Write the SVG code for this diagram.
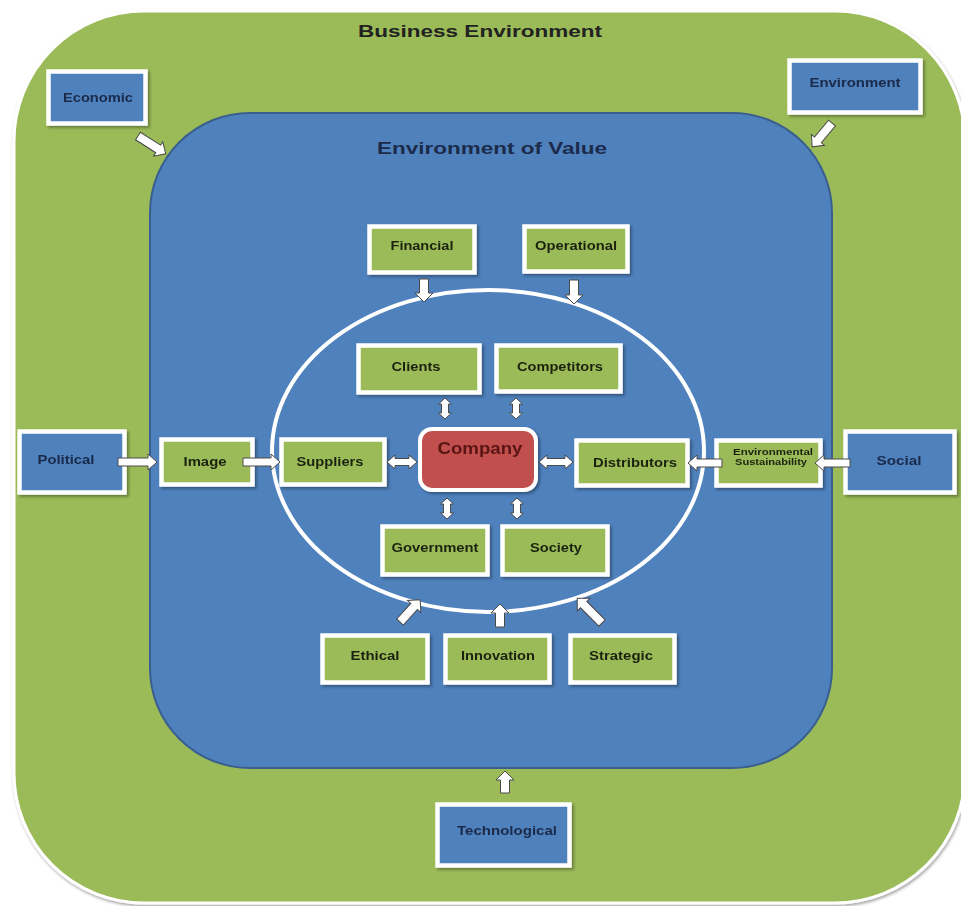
<svg xmlns="http://www.w3.org/2000/svg" width="961" height="906" viewBox="0 0 961 906">
<defs>
<filter id="sh" x="-20%" y="-20%" width="140%" height="140%">
<feDropShadow dx="2" dy="2" stdDeviation="1.5" flood-color="#000" flood-opacity="0.35"/>
</filter>
<filter id="shb" x="-5%" y="-5%" width="110%" height="110%">
<feDropShadow dx="1" dy="2" stdDeviation="1.5" flood-color="#000" flood-opacity="0.35"/>
</filter>
</defs>
<style>
.blue{fill:#4f81bd;stroke:#fff;stroke-width:4.5}
.green{fill:#9bbb59;stroke:#fff;stroke-width:4.5}
.lb{font-family:"Liberation Sans",Arial,sans-serif;font-weight:bold;font-size:12.5px;fill:#1b2a4a;text-anchor:middle}
.lg{font-family:"Liberation Sans",Arial,sans-serif;font-weight:bold;font-size:12.5px;fill:#1a2410;text-anchor:middle}
.title{font-family:"Liberation Sans",Arial,sans-serif;font-weight:bold;font-size:17px;text-anchor:middle}
.arr{fill:#fff;stroke:#4a4a4a;stroke-width:1}
</style>
<rect width="961" height="906" fill="#fff"/>
<g id="business-environment">
<rect x="14" y="11" width="951" height="892" rx="130" ry="130" fill="#9bbb59" stroke="#fff" stroke-width="3" filter="url(#shb)"/>
<text class="title" x="480" y="37" fill="#222" textLength="244" lengthAdjust="spacingAndGlyphs">Business Environment</text>
</g>
<g id="environment-of-value">
<rect x="150" y="113" width="682" height="655" rx="100" ry="100" fill="#4f81bd" stroke="#3a5f8f" stroke-width="2"/>
<text class="title" x="492" y="154" fill="#1c2b4a" textLength="230" lengthAdjust="spacingAndGlyphs">Environment of Value</text>
</g>
<g id="circle">
<ellipse cx="488" cy="451" rx="216" ry="161" fill="none" stroke="#fff" stroke-width="4"/>
</g>
<g id="economic" filter="url(#sh)"><rect class="blue" x="48.5" y="71.5" width="97" height="52"/><text class="lb" x="98" y="102" textLength="70" lengthAdjust="spacingAndGlyphs">Economic</text></g>
<g id="environment" filter="url(#sh)"><rect class="blue" x="789.5" y="60.5" width="131" height="52"/><text class="lb" x="855" y="87" textLength="91" lengthAdjust="spacingAndGlyphs">Environment</text></g>
<g id="political" filter="url(#sh)"><rect class="blue" x="19.5" y="431.5" width="105" height="61"/><text class="lb" x="66" y="464" textLength="57" lengthAdjust="spacingAndGlyphs">Political</text></g>
<g id="social" filter="url(#sh)"><rect class="blue" x="845.5" y="431.5" width="109" height="61"/><text class="lb" x="899" y="465" textLength="45" lengthAdjust="spacingAndGlyphs">Social</text></g>
<g id="technological" filter="url(#sh)"><rect class="blue" x="437.5" y="804.5" width="132" height="61"/><text class="lb" x="507" y="835" textLength="100" lengthAdjust="spacingAndGlyphs">Technological</text></g>
<g id="image" filter="url(#sh)"><rect class="green" x="161.5" y="439.5" width="91" height="45"/><text class="lg" x="205" y="466" textLength="43" lengthAdjust="spacingAndGlyphs">Image</text></g>
<g id="suppliers" filter="url(#sh)"><rect class="green" x="281.5" y="439.5" width="103" height="45"/><text class="lg" x="330" y="466" textLength="67" lengthAdjust="spacingAndGlyphs">Suppliers</text></g>
<g id="distributors" filter="url(#sh)"><rect class="green" x="576.5" y="440.5" width="111" height="45"/><text class="lg" x="635" y="467" textLength="84" lengthAdjust="spacingAndGlyphs">Distributors</text></g>
<g id="environmental-sustainability" filter="url(#sh)"><rect class="green" x="716.5" y="440.5" width="104" height="45"/>
<text class="lg" x="773" y="455" style="font-size:9px" textLength="80" lengthAdjust="spacingAndGlyphs">Environmental</text>
<text class="lg" x="771" y="465" style="font-size:9px" textLength="72" lengthAdjust="spacingAndGlyphs">Sustainability</text></g>
<g id="financial" filter="url(#sh)"><rect class="green" x="369.5" y="226.5" width="105" height="46"/><text class="lg" x="422" y="250" textLength="63" lengthAdjust="spacingAndGlyphs">Financial</text></g>
<g id="operational" filter="url(#sh)"><rect class="green" x="524.5" y="226.5" width="103" height="45"/><text class="lg" x="576" y="250" textLength="82" lengthAdjust="spacingAndGlyphs">Operational</text></g>
<g id="clients" filter="url(#sh)"><rect class="green" x="358.5" y="345.5" width="121" height="47"/><text class="lg" x="416" y="371" textLength="49" lengthAdjust="spacingAndGlyphs">Clients</text></g>
<g id="competitors" filter="url(#sh)"><rect class="green" x="496.5" y="345.5" width="124" height="46"/><text class="lg" x="560" y="371" textLength="86" lengthAdjust="spacingAndGlyphs">Competitors</text></g>
<g id="government" filter="url(#sh)"><rect class="green" x="382.5" y="526.5" width="105" height="48"/><text class="lg" x="435" y="552" textLength="87" lengthAdjust="spacingAndGlyphs">Government</text></g>
<g id="society" filter="url(#sh)"><rect class="green" x="502.5" y="526.5" width="105" height="48"/><text class="lg" x="556" y="552" textLength="52" lengthAdjust="spacingAndGlyphs">Society</text></g>
<g id="ethical" filter="url(#sh)"><rect class="green" x="322.5" y="635.5" width="105" height="47"/><text class="lg" x="375" y="660" textLength="49" lengthAdjust="spacingAndGlyphs">Ethical</text></g>
<g id="innovation" filter="url(#sh)"><rect class="green" x="445.5" y="635.5" width="104" height="47"/><text class="lg" x="498" y="660" textLength="74" lengthAdjust="spacingAndGlyphs">Innovation</text></g>
<g id="strategic" filter="url(#sh)"><rect class="green" x="570.5" y="635.5" width="104" height="47"/><text class="lg" x="621" y="660" textLength="64" lengthAdjust="spacingAndGlyphs">Strategic</text></g>
<g id="company" filter="url(#sh)"><rect x="420" y="429" width="116" height="61" rx="12" ry="12" fill="#c0504d" stroke="#fff" stroke-width="4"/>
<text class="title" x="480" y="454" style="font-size:16px" fill="#5a1515" textLength="85" lengthAdjust="spacingAndGlyphs">Company</text></g>
<g id="connectors">
<path class="arr" transform="translate(138,136) rotate(32.7)" d="M0,-4.5 H24 V-8.5 L33,0 L24,8.5 V4.5 H0 Z"/>
<path class="arr" transform="translate(832,123) rotate(129.8)" d="M0,-4.5 H22 V-8.5 L31,0 L22,8.5 V4.5 H0 Z"/>
<path class="arr" transform="translate(118,462)" d="M0,-4 H30 V-8 L39,0 L30,8 V4 H0 Z"/>
<path class="arr" transform="translate(243,462)" d="M0,-4 H28 V-8 L37,0 L28,8 V4 H0 Z"/>
<path class="arr" transform="translate(387,462)" d="M0,0 L8,-7 V-3.5 H22 V-7 L30,0 L22,7 V3.5 H8 V7 Z"/>
<path class="arr" transform="translate(539,462)" d="M0,0 L8,-7 V-3.5 H26 V-7 L34,0 L26,7 V3.5 H8 V7 Z"/>
<path class="arr" transform="translate(722,463) rotate(180)" d="M0,-4 H25 V-8 L34,0 L25,8 V4 H0 Z"/>
<path class="arr" transform="translate(850,463) rotate(180)" d="M0,-4 H26 V-8 L35,0 L26,8 V4 H0 Z"/>
<path class="arr" transform="translate(424,279) rotate(90)" d="M0,-4.5 H14 V-9 L23,0 L14,9 V4.5 H0 Z"/>
<path class="arr" transform="translate(574,280) rotate(90)" d="M0,-4.5 H15 V-9 L24,0 L15,9 V4.5 H0 Z"/>
<path class="arr" transform="translate(445,398) rotate(90)" d="M0,0 L6,-6.5 V-3.5 H15 V-6.5 L21,0 L15,6.5 V3.5 H6 V6.5 Z"/>
<path class="arr" transform="translate(516,398) rotate(90)" d="M0,0 L6,-6.5 V-3.5 H15 V-6.5 L21,0 L15,6.5 V3.5 H6 V6.5 Z"/>
<path class="arr" transform="translate(447,498) rotate(90)" d="M0,0 L6,-6.5 V-3.5 H15 V-6.5 L21,0 L15,6.5 V3.5 H6 V6.5 Z"/>
<path class="arr" transform="translate(517,498) rotate(90)" d="M0,0 L6,-6.5 V-3.5 H15 V-6.5 L21,0 L15,6.5 V3.5 H6 V6.5 Z"/>
<path class="arr" transform="translate(400,622) rotate(-47.7)" d="M0,-4.5 H21 V-9 L30,0 L21,9 V4.5 H0 Z"/>
<path class="arr" transform="translate(500,627) rotate(-90)" d="M0,-4.5 H14 V-9 L23,0 L14,9 V4.5 H0 Z"/>
<path class="arr" transform="translate(602,623) rotate(-135)" d="M0,-4.5 H26 V-9 L35,0 L26,9 V4.5 H0 Z"/>
<path class="arr" transform="translate(505,793) rotate(-90)" d="M0,-4.5 H13 V-9 L22,0 L13,9 V4.5 H0 Z"/>
</g>
</svg>
